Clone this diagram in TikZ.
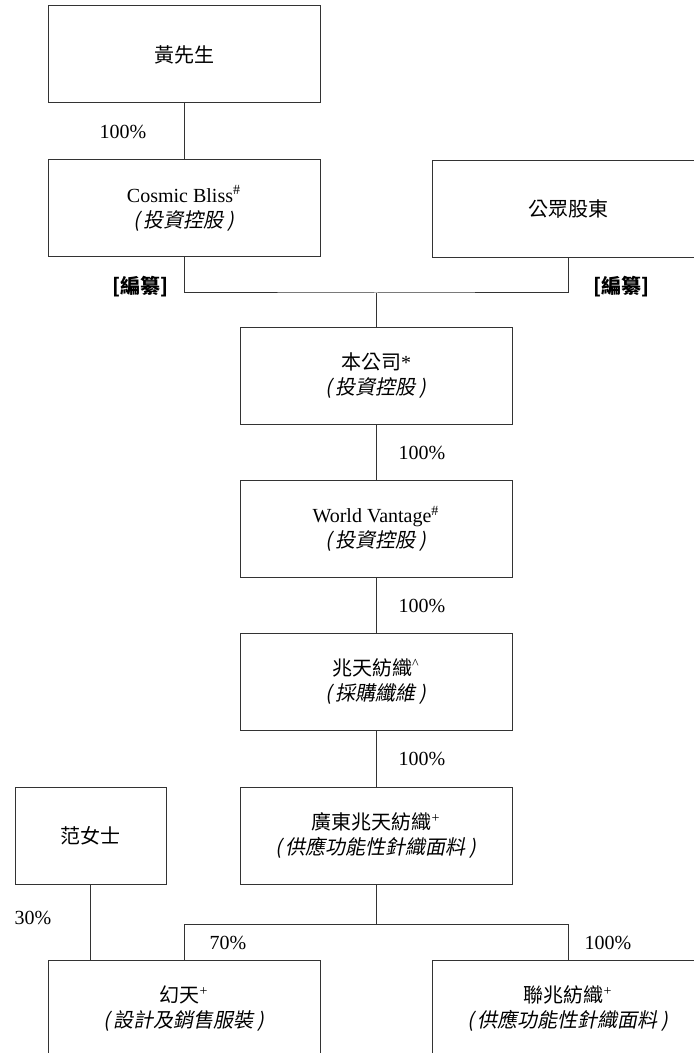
\documentclass[tikz,border=0pt]{standalone}
\usepackage{fontspec}
\setmainfont{Liberation Serif}
\newfontfamily\cjk{Noto Sans CJK TC}
\newfontfamily\cjkit{Noto Sans CJK TC}[FakeSlant=0.2]
\newcommand{\biz}[1]{{\cjkit(\,#1\,)}}

\begin{document}
\begin{tikzpicture}[x=0.5pt,y=-0.5pt,
  entity/.style={draw=black!80,line width=0.5pt,minimum width=136pt,minimum height=48.5pt,
    inner sep=0pt,align=center,font=\fontsize{10}{12.5}\selectfont},
  pct/.style={font=\fontsize{10}{12}\selectfont},
  redact/.style={font=\fontsize{10}{12}\selectfont\cjk\bfseries},
  link/.style={draw=black!80,line width=0.5pt}]
\useasboundingbox (0,0) rectangle (694,1053);
\node[entity] (huang) at (184,54.5) {\cjk 黃先生};
\node[entity] (cosmic) at (184,208.5) {Cosmic Bliss\textsuperscript{\#}\\\biz{投資控股}};
\node[entity] (public) at (568,209) {\cjk 公眾股東};
\node[entity] (company) at (376,375.5) {{\cjk 本公司}*\\\biz{投資控股}};
\node[entity] (world) at (376,529) {World Vantage\textsuperscript{\#}\\\biz{投資控股}};
\node[entity] (zhaotian) at (376,682) {{\cjk 兆天紡織}\textsuperscript{\textasciicircum}\\\biz{採購纖維}};
\node[entity] (guangdong) at (376,836) {{\cjk 廣東兆天紡織}\textsuperscript{+}\\\biz{供應功能性針織面料}};
\node[entity,minimum width=75.5pt] (fan) at (90.5,835.5) {\cjk 范女士};
\node[entity] (huantian) at (184,1008.5) {{\cjk 幻天}\textsuperscript{+}\\\biz{設計及銷售服裝}};
\node[entity] (lianzhao) at (568,1008.5) {{\cjk 聯兆紡織}\textsuperscript{+}\\\biz{供應功能性針織面料}};
% junctions
\coordinate (top) at (376,293);
\coordinate (bottom) at (376,924);
% connectors
\draw[link] (huang) -- (cosmic);
\draw[link] (cosmic.south) |- (top) -| (public.south);
\draw[link] (top) -- (company.north);
\draw[link] (company) -- (world);
\draw[link] (world) -- (zhaotian);
\draw[link] (zhaotian) -- (guangdong);
\draw[link] (guangdong.south) -- (bottom);
\draw[link] (huantian.north) |- (bottom) -| (lianzhao.north);
\draw[link] (fan.south) -- (fan.south |- huantian.north);
% labels
\node[pct] (p1) at (123,132) {100\%};
\node[redact] (r1) at (140,287) {[編纂]};
\node[redact] (r2) at (621,287) {[編纂]};
\node[pct] (p2) at (422,453) {100\%};
\node[pct] (p3) at (422,606) {100\%};
\node[pct] (p4) at (422,759) {100\%};
\node[pct] (p5) at (33,918) {30\%};
\node[pct] (p6) at (228,943) {70\%};
\node[pct] (p7) at (608,943) {100\%};
\end{tikzpicture}
\end{document}
